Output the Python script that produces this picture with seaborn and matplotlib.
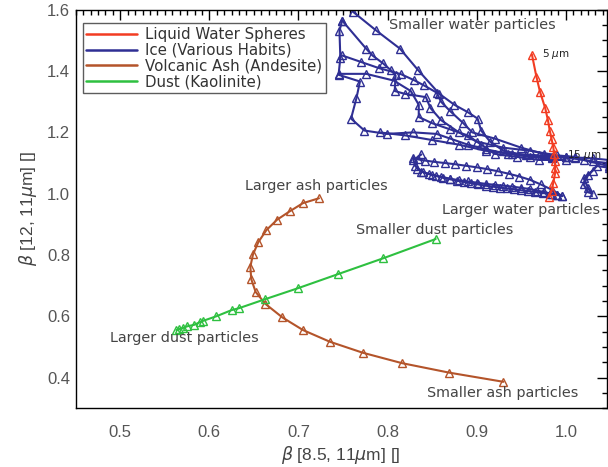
import numpy as np
import pandas as pd
import matplotlib
matplotlib.use("Agg")
import matplotlib.pyplot as plt
import seaborn as sns
from matplotlib.ticker import MultipleLocator, AutoMinorLocator
from matplotlib.lines import Line2D

sns.set_theme(style="white")
plt.rcParams['font.family'] = ['DejaVu Sans']

# ---------------- data ----------------
water_x = [0.962, 0.967, 0.971, 0.977, 0.980, 0.982, 0.984, 0.986, 0.987, 0.988,
           0.988, 0.988, 0.986, 0.984, 0.981]
water_y = [1.454, 1.382, 1.333, 1.278, 1.239, 1.206, 1.179, 1.151, 1.129, 1.107,
           1.085, 1.066, 1.036, 1.008, 0.990]

ash_x = [0.723, 0.705, 0.690, 0.676, 0.664, 0.655, 0.649, 0.646, 0.647, 0.652,
         0.663, 0.682, 0.705, 0.735, 0.772, 0.816, 0.869, 0.930]
ash_y = [0.985, 0.969, 0.942, 0.915, 0.881, 0.842, 0.802, 0.762, 0.721, 0.679,
         0.640, 0.596, 0.555, 0.517, 0.481, 0.447, 0.416, 0.386]

dust_x = [0.854, 0.795, 0.744, 0.700, 0.662, 0.633, 0.625, 0.608, 0.593, 0.589,
          0.583, 0.575, 0.570, 0.566, 0.563]
dust_y = [0.852, 0.789, 0.737, 0.692, 0.655, 0.626, 0.620, 0.600, 0.585, 0.580,
          0.572, 0.567, 0.561, 0.558, 0.555]

ice_habits = {
    "h1": ([0.761, 0.787, 0.814, 0.834, 0.858, 0.875, 0.890, 0.901, 0.905, 0.915, 0.930, 0.955, 0.985, 1.010, 1.030, 1.048],
           [1.594, 1.533, 1.473, 1.404, 1.326, 1.290, 1.266, 1.245, 1.206, 1.170, 1.140, 1.125, 1.120, 1.115, 1.105, 1.100]),
    "h2": ([0.749, 0.746, 0.747, 0.745, 0.769, 0.765, 0.759, 0.774, 0.799, 0.829, 0.855, 0.870, 0.890, 0.910, 0.935, 0.960, 0.985],
           [1.565, 1.531, 1.443, 1.388, 1.366, 1.311, 1.245, 1.206, 1.195, 1.200, 1.195, 1.180, 1.160, 1.145, 1.130, 1.120, 1.115]),
    "h3": ([0.749, 0.776, 0.783, 0.795, 0.804, 0.809, 0.808, 0.819, 0.843, 0.848, 0.860, 0.880, 0.900, 0.930, 0.960, 0.990, 1.010],
           [1.565, 1.473, 1.451, 1.425, 1.402, 1.386, 1.335, 1.326, 1.315, 1.280, 1.240, 1.200, 1.170, 1.150, 1.140, 1.125, 1.120]),
    "h4": ([0.749, 0.770, 0.790, 0.815, 0.830, 0.841, 0.855, 0.860, 0.870, 0.885, 0.895, 0.920, 0.950, 0.975, 1.000, 1.020, 1.048],
           [1.451, 1.430, 1.410, 1.390, 1.370, 1.353, 1.330, 1.300, 1.270, 1.230, 1.200, 1.180, 1.150, 1.130, 1.120, 1.110, 1.090]),
    "h5": ([0.746, 0.776, 0.807, 0.826, 0.835, 0.835, 0.850, 0.870, 0.890, 0.905, 0.920, 0.945, 0.970, 1.000],
           [1.391, 1.391, 1.369, 1.335, 1.290, 1.250, 1.230, 1.210, 1.190, 1.160, 1.130, 1.120, 1.110, 1.110]),
    "h6": ([0.838, 0.829, 0.831, 0.838, 0.846, 0.854, 0.862, 0.870, 0.878, 0.886, 0.894, 0.902, 0.910, 0.918,
            0.926, 0.934, 0.942, 0.950, 0.958, 0.966, 0.974, 0.982, 0.990, 0.996],
           [1.128, 1.110, 1.090, 1.072, 1.064, 1.058, 1.052, 1.047, 1.042, 1.038, 1.034, 1.030, 1.026, 1.023,
            1.020, 1.017, 1.014, 1.011, 1.008, 1.005, 1.002, 0.999, 0.996, 0.992]),
    "h7": ([0.996, 0.985, 0.972, 0.960, 0.948, 0.936, 0.924, 0.912, 0.900, 0.888, 0.876, 0.864, 0.852, 0.842, 0.834, 0.829],
           [0.992, 1.012, 1.030, 1.045, 1.056, 1.065, 1.073, 1.080, 1.086, 1.091, 1.096, 1.100, 1.104, 1.108, 1.112, 1.115]),
    "h8": ([1.048, 1.035, 1.025, 1.020, 1.025, 1.030, 1.025, 1.020, 1.030],
           [1.085, 1.090, 1.060, 1.030, 1.005, 1.000, 1.020, 1.050, 1.075]),
    "h9": ([0.791, 0.820, 0.850, 0.880, 0.910, 0.940, 0.970, 1.000, 1.030, 1.048],
           [1.200, 1.190, 1.175, 1.160, 1.140, 1.130, 1.125, 1.120, 1.115, 1.110]),
    "h10": ([0.833, 0.840, 0.850, 0.860, 0.870, 0.880, 0.890, 0.900, 0.910, 0.920, 0.930, 0.940, 0.950,
             0.960, 0.968, 0.976, 0.984, 0.990],
            [1.082, 1.070, 1.062, 1.055, 1.049, 1.044, 1.040, 1.036, 1.032, 1.029, 1.026, 1.023, 1.019,
             1.015, 1.010, 1.005, 1.000, 0.995]),
}

series_names = ["Liquid Water Spheres", "Ice (Various Habits)",
                "Volcanic Ash (Andesite)", "Dust (Kaolinite)"]
colors = ["#f23c22", "#2f2f94", "#b4542a", "#2ec040"]

# ---------------- figure ----------------
fig = plt.figure(figsize=(6.08, 4.67), dpi=100)
ax = fig.add_axes([0.1245, 0.126, 0.8735, 0.853])

mk = dict(marker="^", markersize=5.6, markerfacecolor="none", markeredgewidth=1.0,
          linewidth=1.5, sort=False, estimator=None, legend=False)

ice_rows = []
for k, (xs, ys) in ice_habits.items():
    for xv, yv in zip(xs, ys):
        ice_rows.append((k, xv, yv))
ice_df = pd.DataFrame(ice_rows, columns=["habit", "x", "y"])
sns.lineplot(data=ice_df, x="x", y="y", units="habit", color=colors[1],
             markeredgecolor=colors[1], ax=ax, **mk)

sns.lineplot(x=water_x, y=water_y, color=colors[0], markeredgecolor=colors[0], ax=ax, **mk)
sns.lineplot(x=ash_x, y=ash_y, color=colors[2], markeredgecolor=colors[2], ax=ax, **mk)
sns.lineplot(x=dust_x, y=dust_y, color=colors[3], markeredgecolor=colors[3], ax=ax, **mk)

ax.set_xlim(0.45, 1.046)
ax.set_ylim(0.30, 1.60)
ax.xaxis.set_major_locator(MultipleLocator(0.1))
ax.xaxis.set_minor_locator(AutoMinorLocator(12))
ax.yaxis.set_major_locator(MultipleLocator(0.2))
ax.yaxis.set_minor_locator(AutoMinorLocator(4))
ax.xaxis.set_major_formatter(matplotlib.ticker.FormatStrFormatter('%.1f'))
ax.yaxis.set_major_formatter(matplotlib.ticker.FormatStrFormatter('%.1f'))

ax.tick_params(which="both", direction="in", top=True, right=True, color="black",
               width=1.0, labelcolor="#555555", labelsize=12)
ax.tick_params(which="major", length=7)
ax.tick_params(which="minor", length=3.5)
ax.tick_params(axis="x", which="major", pad=12)
ax.tick_params(axis="y", which="major", pad=4)
for lab in ax.get_xticklabels() + ax.get_yticklabels():
    lab.set_family("Liberation Sans")
for s in ax.spines.values():
    s.set_color("black")
    s.set_linewidth(1.0)

ax.set_xlabel(r"$\beta$ [8.5, 11$\mu$m] []", fontsize=12.5, color="#444444",
              family="Liberation Sans", labelpad=3)
ax.set_ylabel(r"$\beta$ [12, 11$\mu$m] []", fontsize=12.5, color="#444444",
              family="Liberation Sans", labelpad=6)

# annotations
tkw = dict(fontsize=10.4, color="#444444", va="center", ha="left")
ax.text(0.802, 1.550, "Smaller water particles", **tkw)
ax.text(0.861, 0.947, "Larger water particles", **tkw)
ax.text(0.640, 1.026, "Larger ash particles", **tkw)
ax.text(0.765, 0.883, "Smaller dust particles", **tkw)
ax.text(0.489, 0.530, "Larger dust particles", **tkw)
ax.text(0.844, 0.349, "Smaller ash particles", **tkw)
ax.text(0.973, 1.456, r"5 $\mu$m", fontsize=7.5, color="#222222", va="center", ha="left")
ax.text(1.001, 1.125, r"15 $\mu$m", fontsize=7.5, color="#222222", va="center", ha="left")

handles = [Line2D([0], [0], color=c, lw=1.8) for c in colors]
leg = ax.legend(handles, series_names, loc="upper left", bbox_to_anchor=(0.013, 0.966),
                fontsize=10.8, frameon=True, fancybox=False, handlelength=3.4,
                handletextpad=0.5, labelspacing=0.05, borderpad=0.25, borderaxespad=0)
leg.get_frame().set_edgecolor("#333333")
leg.get_frame().set_linewidth(1.0)
for t in leg.get_texts():
    t.set_color("#333333")

fig.savefig("out.png", dpi=100)
